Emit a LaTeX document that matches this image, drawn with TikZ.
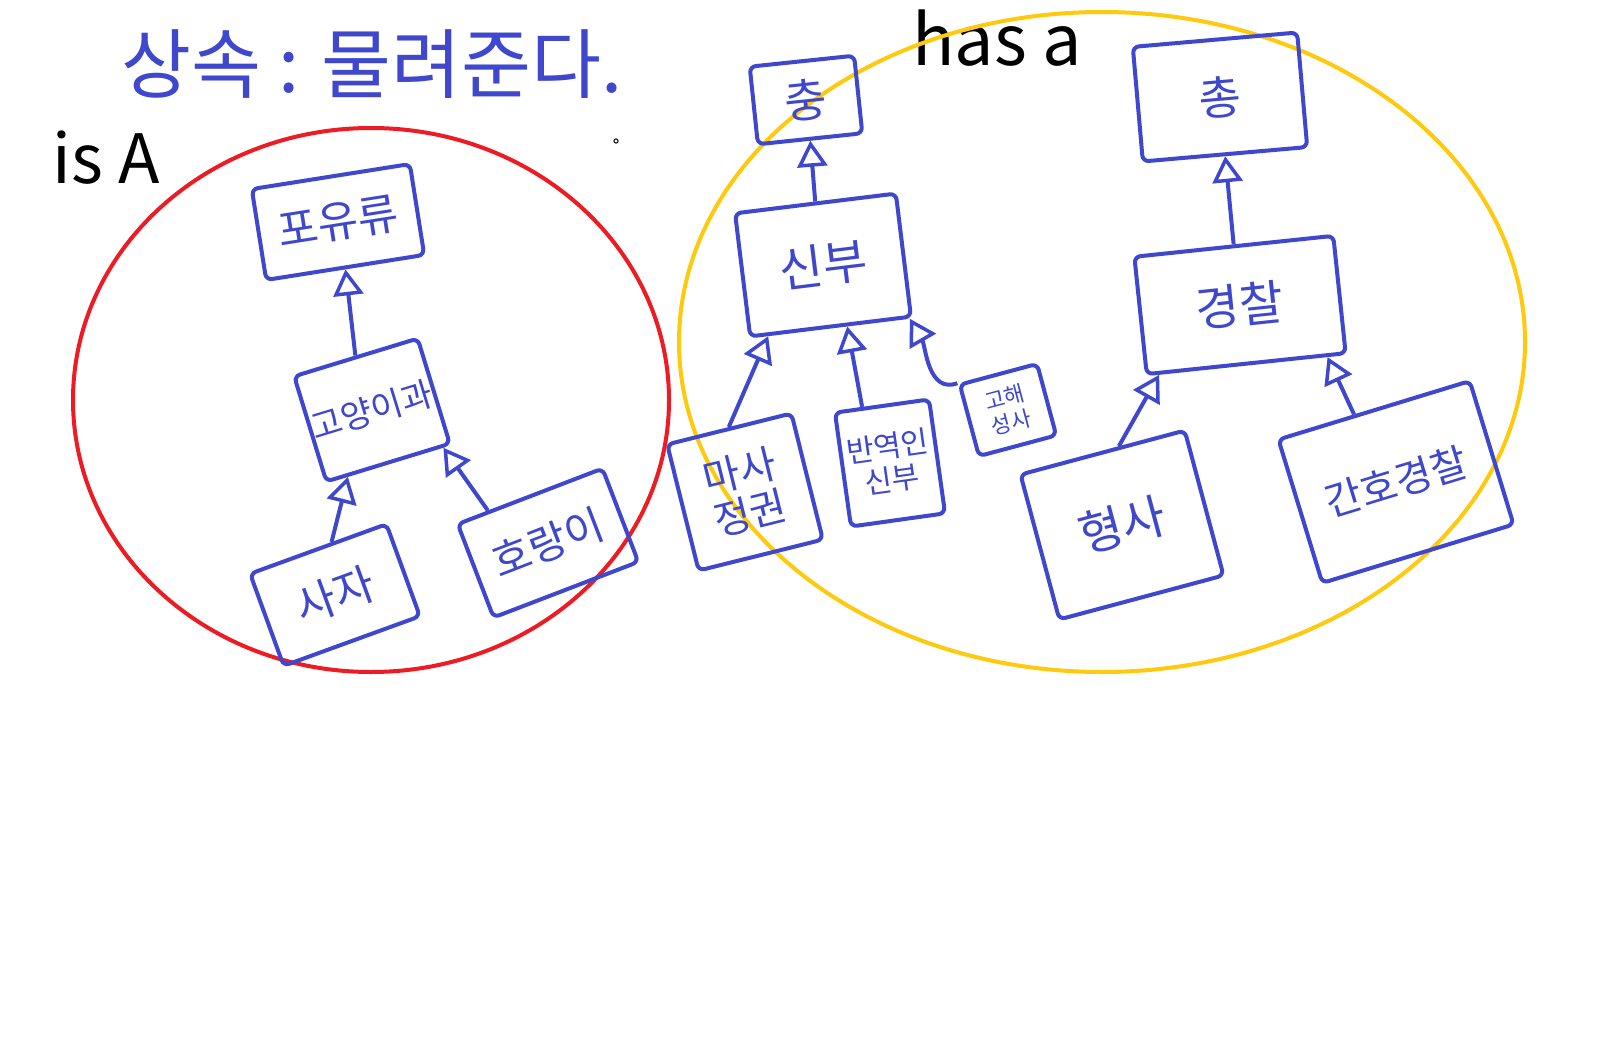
\documentclass[tikz,border=0pt]{standalone}
\usepackage{fontspec}
\setmainfont{Noto Sans CJK KR}
\usetikzlibrary{arrows.meta,calc}
\definecolor{pblue}{RGB}{63,72,204}
\definecolor{pred}{RGB}{237,28,36}
\definecolor{pyel}{RGB}{255,201,14}
\tikzset{
  box/.style={draw=pblue, line width=4pt, rounded corners=6pt, text=pblue, align=center, inner sep=2pt},
  gen/.style={draw=pblue, line width=4pt, -{Triangle[open, length=26pt, width=30pt, line width=3.5pt]}},
  handb/.style={text=pblue},
  handk/.style={text=black},
}
\begin{document}
\begin{tikzpicture}[x=1pt,y=-1pt]
\useasboundingbox (0,0) rectangle (1608,1043);
\fill[white] (0,0) rectangle (1608,1043);

% titles
\node[handb, font=\fontsize{76}{78}\selectfont] (title) at (372,64) {상속 : 물려준다.};
\node[handk, font=\fontsize{68}{70}\selectfont] (isa) at (106,158) {is A};
\node[handk, font=\fontsize{70}{72}\selectfont] (hasa) at (997,38) {has a};
\node[draw=black, circle, line width=1pt, inner sep=1.5pt] (dot) at (616,141) {};

% ellipses
\draw[pred, line width=4pt] (371,400) ellipse [x radius=298, y radius=272];
\draw[pyel, line width=4pt] (1102,342) ellipse [x radius=423, y radius=330];

% is-A group
\node[box, minimum width=160pt, minimum height=92pt, rotate=9, font=\fontsize{44}{46}\selectfont] (pou) at (338,222) {포유류};
\node[box, minimum width=128pt, minimum height=110pt, rotate=17, font=\fontsize{34}{36}\selectfont] (goy) at (372,410) {고양이과};
\node[box, minimum width=145pt, minimum height=98pt, rotate=20, font=\fontsize{44}{46}\selectfont] (saja) at (335,595) {사자};
\node[box, minimum width=155pt, minimum height=100pt, rotate=21, font=\fontsize{42}{44}\selectfont] (horang) at (548,543) {호랑이};

\draw[gen] (goy.north) -- (pou.south);
\draw[gen] ($(saja.north west)!0.6!(saja.north east)$) -- ($(goy.south west)!0.18!(goy.south east)$);
\draw[gen] ($(horang.north west)!0.22!(horang.north east)$) -- ($(goy.south west)!0.93!(goy.south east)$);

% has-a group
\node[box, minimum width=105pt, minimum height=78pt, rotate=6, font=\fontsize{46}{48}\selectfont] (chung) at (806,100) {충};
\node[box, minimum width=162pt, minimum height=124pt, rotate=7, font=\fontsize{48}{50}\selectfont] (sinbu) at (823,265) {신부};
\node[box, minimum width=165pt, minimum height=115pt, rotate=5, font=\fontsize{46}{48}\selectfont] (chong) at (1220,97) {총};
\node[box, minimum width=200pt, minimum height=118pt, rotate=6, font=\fontsize{48}{50}\selectfont] (police) at (1240,305) {경찰};

\node[box, minimum width=128pt, minimum height=130pt, rotate=14, font=\fontsize{40}{44}\selectfont] (masa) at (745,492) {마사\\정권};
\node[box, minimum width=95pt, minimum height=115pt, rotate=8, font=\fontsize{30}{34}\selectfont] (bany) at (890,463) {반역인\\신부};
\node[box, minimum width=80pt, minimum height=74pt, rotate=15, font=\fontsize{22}{26}\selectfont] (gohae) at (1008,410) {고해\\성사};
\node[box, minimum width=170pt, minimum height=150pt, rotate=15, font=\fontsize{48}{50}\selectfont] (hyeong) at (1122,525) {형사};
\node[box, minimum width=200pt, minimum height=150pt, rotate=17, font=\fontsize{40}{44}\selectfont] (ganho) at (1396,482) {간호경찰};

\draw[gen] (sinbu.north) -- (chung.south);
\draw[gen] (police.north) -- (chong.south);
\draw[gen] ($(masa.north west)!0.5!(masa.north east)$) -- ($(sinbu.south west)!0.12!(sinbu.south east)$);
\draw[gen] ($(bany.north west)!0.3!(bany.north east)$) -- ($(sinbu.south west)!0.6!(sinbu.south east)$);
\draw[gen] (gohae.north west) to[out=200, in=300] ($(sinbu.south west)!0.98!(sinbu.south east)$);
\draw[gen] ($(hyeong.north west)!0.6!(hyeong.north east)$) -- ($(police.south west)!0.07!(police.south east)$);
\draw[gen] ($(ganho.north west)!0.4!(ganho.north east)$) -- ($(police.south west)!0.9!(police.south east)$);
\end{tikzpicture}
\end{document}
